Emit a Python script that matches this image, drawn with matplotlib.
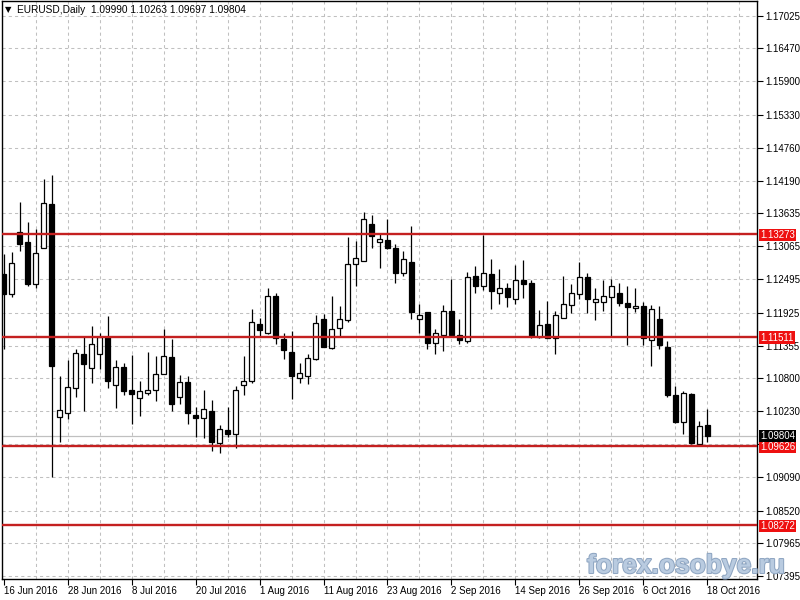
import numpy as np
import pandas as pd
import matplotlib
matplotlib.use("Agg")
import matplotlib.pyplot as plt
import matplotlib.patheffects as pe

plt.rcParams['font.family'] = ['Liberation Sans', 'DejaVu Sans']

# EURUSD daily bars, 16 Jun 2016 .. 18 Oct 2016
opens = [1.1258, 1.1225, 1.1331, 1.1313, 1.1242, 1.1304, 1.1379, 1.1013, 1.1019, 1.1063,
         1.1122, 1.1098, 1.1122, 1.1150, 1.1068, 1.1099, 1.1059, 1.1045, 1.1054, 1.1059,
         1.1087, 1.1116, 1.1047, 1.1073, 1.1017, 1.1012, 1.1023, 1.0969, 1.0990, 1.0983,
         1.1068, 1.1075, 1.1173, 1.1157, 1.1221, 1.1147, 1.1125, 1.1080, 1.1083, 1.1112,
         1.1182, 1.1132, 1.1166, 1.1180, 1.1276, 1.1281, 1.1344, 1.1313, 1.1318, 1.1304,
         1.1260, 1.1280, 1.1181, 1.1194, 1.1140, 1.1154, 1.1196, 1.1154, 1.1143, 1.1255,
         1.1239, 1.1259, 1.1227, 1.1235, 1.1215, 1.1248, 1.1244, 1.1150, 1.1173, 1.1149,
         1.1184, 1.1206, 1.1225, 1.1254, 1.1211, 1.1211, 1.1219, 1.1227, 1.1209, 1.1200,
         1.1203, 1.1145, 1.1182, 1.1134, 1.1051, 1.1005, 1.1052, 1.0967, 1.09990]
highs = [1.1294, 1.1297, 1.1382, 1.1349, 1.1337, 1.1422, 1.1429, 1.1083, 1.1111, 1.1129,
         1.1150, 1.1169, 1.1157, 1.1186, 1.1111, 1.1106, 1.1120, 1.1075, 1.1125, 1.1118,
         1.1165, 1.1147, 1.1085, 1.1084, 1.1030, 1.1059, 1.1042, 1.0999, 1.1030, 1.1066,
         1.1118, 1.1198, 1.1184, 1.1234, 1.1227, 1.1157, 1.1161, 1.1105, 1.1121, 1.1188,
         1.1190, 1.1221, 1.1203, 1.1322, 1.1315, 1.1366, 1.1360, 1.1330, 1.1354, 1.1311,
         1.1298, 1.1341, 1.1208, 1.1194, 1.1165, 1.1205, 1.1251, 1.1182, 1.1263, 1.1272,
         1.1326, 1.1285, 1.1268, 1.1243, 1.1274, 1.1283, 1.1249, 1.1197, 1.1213, 1.1196,
         1.1256, 1.1242, 1.1280, 1.1260, 1.1235, 1.1249, 1.1251, 1.1243, 1.1239, 1.1234,
         1.1210, 1.1205, 1.1203, 1.1143, 1.1067, 1.1058, 1.1055, 1.1006, 1.10263]
lows = [1.1130, 1.1220, 1.1299, 1.1239, 1.1235, 1.1304, 1.0910, 1.0970, 1.1010, 1.1048,
        1.1024, 1.1072, 1.1095, 1.1062, 1.1029, 1.1051, 1.1001, 1.1015, 1.1051, 1.1041,
        1.1086, 1.1024, 1.1035, 1.1000, 1.0978, 1.0977, 1.0954, 1.0951, 1.0978, 1.0959,
        1.1051, 1.1071, 1.1153, 1.1156, 1.1138, 1.1112, 1.1044, 1.1072, 1.1070, 1.1111,
        1.1133, 1.1129, 1.1153, 1.1176, 1.1239, 1.1281, 1.1303, 1.1269, 1.1301, 1.1244,
        1.1256, 1.1181, 1.1157, 1.1130, 1.1121, 1.1126, 1.1150, 1.1138, 1.1141, 1.1227,
        1.1232, 1.1199, 1.1208, 1.1202, 1.1208, 1.1217, 1.1149, 1.1149, 1.1149, 1.1121,
        1.1184, 1.1191, 1.1215, 1.1192, 1.1179, 1.1195, 1.1151, 1.1203, 1.1136, 1.1194,
        1.1137, 1.1101, 1.1129, 1.1047, 1.1002, 1.0983, 1.0967, 1.0966, 1.09697]
closes = [1.1225, 1.1277, 1.1310, 1.1241, 1.1295, 1.1381, 1.1100, 1.1025, 1.1064, 1.1123,
          1.1104, 1.1138, 1.1150, 1.1075, 1.1099, 1.1058, 1.1052, 1.1058, 1.1059, 1.1087,
          1.1118, 1.1035, 1.1073, 1.1020, 1.1011, 1.1026, 1.0970, 1.0993, 1.0983, 1.1059,
          1.1075, 1.1176, 1.1162, 1.1221, 1.1148, 1.1128, 1.1083, 1.1088, 1.1114, 1.1175,
          1.1134, 1.1164, 1.1182, 1.1276, 1.1287, 1.1354, 1.1325, 1.1319, 1.1303, 1.1260,
          1.1285, 1.1193, 1.1188, 1.1140, 1.1157, 1.1196, 1.1154, 1.1145, 1.1254, 1.1239,
          1.1261, 1.1229, 1.1235, 1.1219, 1.1249, 1.1242, 1.1153, 1.1171, 1.1149, 1.1188,
          1.1207, 1.1227, 1.1254, 1.1215, 1.1215, 1.1221, 1.1238, 1.1209, 1.1202, 1.1204,
          1.1148, 1.1199, 1.1137, 1.1051, 1.1005, 1.1054, 1.0968, 1.0997, 1.09804]

levels = [1.13273, 1.11511, 1.09626, 1.08272]
last_close = 1.09804
price_ticks = [1.17025, 1.16470, 1.15900, 1.15330, 1.14760, 1.14190, 1.13635, 1.13065,
               1.12495, 1.11925, 1.11355, 1.10800, 1.10230, 1.09660, 1.09090, 1.08520,
               1.07965, 1.07395]
hidden_tick = 1.09660   # covered by the level boxes in the original

dates = pd.bdate_range('2016-06-16', periods=len(opens))
x = np.arange(len(opens))
o, h, l, c = map(np.array, (opens, highs, lows, closes))

fig = plt.figure(figsize=(8, 6), dpi=100)
ax = fig.add_axes([2/800, 21/600, 755/800, 578/600])

# grid
for p in price_ticks:
    ax.axhline(p, color='#c0c0c0', lw=0.75, ls=(0, (3, 3)), zorder=0)
for xv in range(4, 95, 4):
    ax.axvline(xv, color='#c0c0c0', lw=0.75, ls=(0, (3, 3)), zorder=0)

# last close line
ax.axhline(last_close, color='#c0c0c0', lw=0.9, zorder=1)

# candles
ax.vlines(x, l, h, color='black', lw=0.9, zorder=2)
bull = c >= o
faces = np.where(bull, 'white', 'black')
ax.bar(x, np.abs(c - o), bottom=np.minimum(o, c), width=0.62, color=faces,
       edgecolor='black', linewidth=0.9, zorder=3)

# levels
box_kw = dict(xycoords=('axes fraction', 'data'), va='center_baseline', ha='left',
              fontsize=7, color='white', zorder=6, annotation_clip=False)
for lv in levels:
    ax.axhline(lv, color='#c42020', lw=1.7, zorder=4)
    ax.annotate(f'{lv:.5f}', xy=(1.004, lv),
                bbox=dict(boxstyle='square,pad=0.12', fc='#ee1010', ec='none'), **box_kw)
ax.annotate(f'{last_close:.5f}', xy=(1.004, last_close + 0.00012),
            bbox=dict(boxstyle='square,pad=0.12', fc='black', ec='none'), **box_kw)

ax.set_xlim(-0.19, 94.19)
ax.set_ylim(1.07343, 1.17283)

ax.yaxis.tick_right()
ax.set_yticks(price_ticks)
ax.set_yticklabels(['' if p == hidden_tick else f'{p:.5f}' for p in price_ticks])
ax.tick_params(axis='y', length=4, width=0.8, pad=2, labelsize=7, colors='black')

lab_idx = list(range(0, len(opens), 8))
ax.set_xticks(lab_idx)
ax.set_xticklabels([f'{dates[i].day} {dates[i]:%b %Y}' for i in lab_idx])
for t in ax.get_xticklabels():
    t.set_ha('left')
ax.tick_params(axis='x', length=4, width=0.8, pad=1, labelsize=7, colors='black')

for s in ax.spines.values():
    s.set_linewidth(1)
    s.set_color('black')

fig.text(5/800, 1 - 10/600, '\u25bc', fontsize=6, va='center', ha='left',
         family=['DejaVu Sans'])
fig.text(17/800, 1 - 10/600, 'EURUSD,Daily  1.09990 1.10263 1.09697 1.09804',
         fontsize=7.3, va='center', ha='left')

# watermark
fig.text(587/800, 1 - 566/600, 'forex.osobye.ru', fontsize=19, fontweight='bold',
         color='#b9cbe0', va='center', ha='left', zorder=10,
         path_effects=[pe.withStroke(linewidth=1.5, foreground='#8fa6c2')])

fig.savefig('out.png', dpi=100)
